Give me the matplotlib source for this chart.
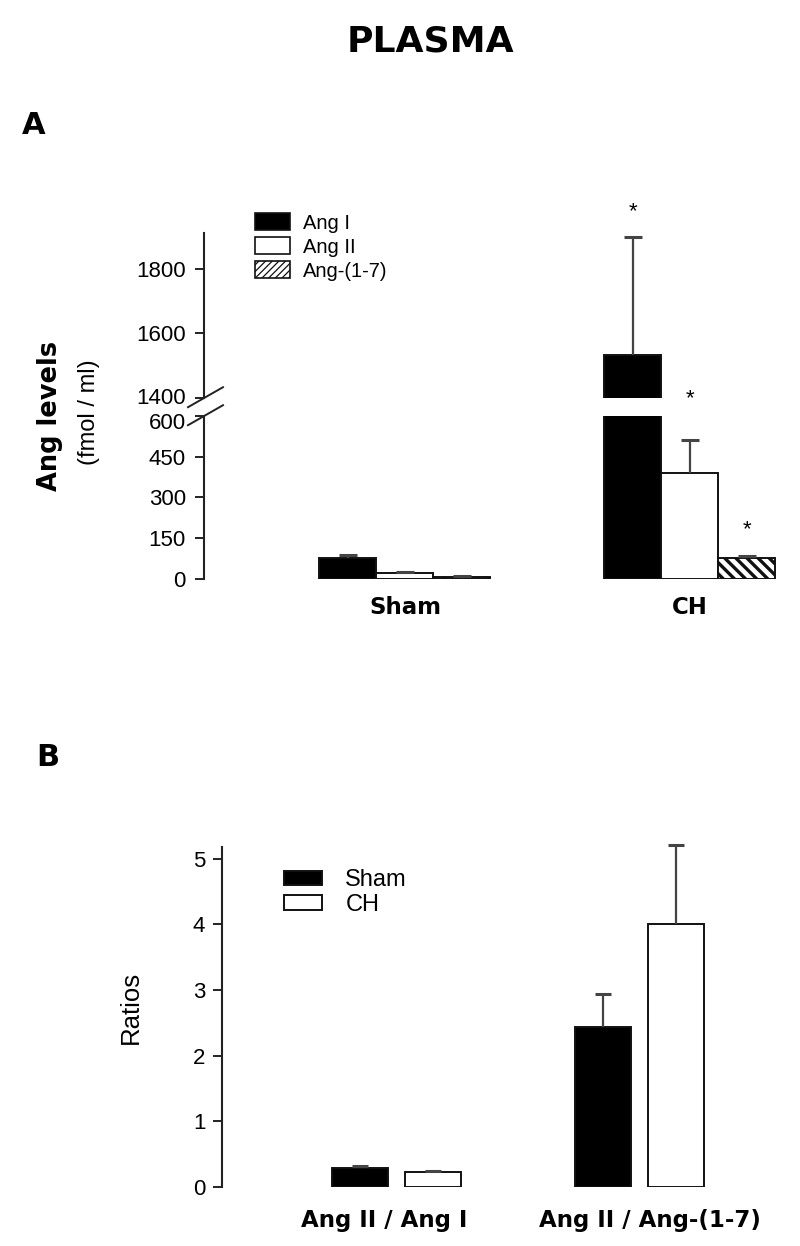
import matplotlib
matplotlib.use('Agg')
import matplotlib.pyplot as plt
import matplotlib.transforms as mtransforms
from matplotlib.patches import Patch
import numpy as np

# ---------------- data ----------------
groups_a = ['Sham', 'CH']
series_a = ['Ang I', 'Ang II', 'Ang-(1-7)']
ang_i = [78, 1534]
ang_i_err = [11, 366]
ang_ii = [22, 389]
ang_ii_err = [4, 122]
ang_17 = [10, 78]
ang_17_err = [2, 7]
significant_a = [[False, True], [False, True], [False, True]]

lower_ticks = [0, 150, 300, 450, 600]
upper_ticks = [1400, 1600, 1800]

groups_b = ['Ang II / Ang I', 'Ang II / Ang-(1-7)']
series_b = ['Sham', 'CH']
ratio_sham = [0.29, 2.44]
ratio_sham_err = [0.03, 0.50]
ratio_ch = [0.23, 4.01]
ratio_ch_err = [0.02, 1.20]
ratio_ticks = [0, 1, 2, 3, 4, 5]

# ---------------- figure ----------------
W, H = 800, 1246
fig = plt.figure(figsize=(W / 100, H / 100), dpi=100)
SANS = ['Liberation Sans', 'DejaVu Sans']
BOLD = ['DejaVu Sans']
EDGE = '#111111'
ERRC = '#444444'


def px_rect(x0, y0, x1, y1):
    return [x0 / W, 1 - y1 / H, (x1 - x0) / W, (y1 - y0) / H]


def style_axis(ax, ticks, fs, pad):
    for s in ['top', 'right', 'bottom']:
        ax.spines[s].set_visible(False)
    ax.spines['left'].set_color('#222222')
    ax.spines['left'].set_linewidth(1.5)
    ax.set_yticks(ticks)
    ax.set_yticklabels([str(t) for t in ticks], fontsize=fs, family=SANS)
    ax.tick_params(axis='y', direction='out', length=6.5, width=1.4,
                   color='#222222', pad=pad)
    ax.tick_params(axis='x', length=0)
    ax.patch.set_alpha(0)


def err_up(ax, xs, ys, es, capw, clip=True):
    xs = np.asarray(xs, float)
    ys = np.asarray(ys, float)
    es = np.asarray(es, float)
    ax.vlines(xs, ys, ys + es, color=ERRC, lw=1.6, zorder=3, clip_on=clip)
    ax.plot(xs, ys + es, ls='none', marker='_', ms=capw, mew=2.2,
            color=ERRC, zorder=3, clip_on=clip)


def nudge_label(ax, text, dy_px):
    for lab in ax.get_yticklabels():
        if lab.get_text() == text:
            lab.set_transform(lab.get_transform() + mtransforms.ScaledTranslation(
                0, dy_px / 100, fig.dpi_scale_trans))


# ---------------- Panel A (broken axis) ----------------
axU = fig.add_axes(px_rect(204, 233, 790, 397.7))
axL = fig.add_axes(px_rect(204, 415.7, 790, 579.3))
axU.set_ylim(1400, 1912)
axL.set_ylim(0, 600)
for ax in (axU, axL):
    ax.set_xlim(-0.705, 1.351)
style_axis(axU, upper_ticks, 16, 6.5)
style_axis(axL, lower_ticks, 16, 6.5)
axU.set_xticks([])

xa = np.arange(len(groups_a))
wa = 0.2
vals_a = [ang_i, ang_ii, ang_17]
errs_a = [ang_i_err, ang_ii_err, ang_17_err]
faces_a = ['black', 'white', 'white']
hatches_a = [None, None, '\\\\\\']
offs_a = [-wa, 0, wa]

plt.rcParams['hatch.linewidth'] = 2.4
for ax in (axU, axL):
    for v, e, fc, h, o in zip(vals_a, errs_a, faces_a, hatches_a, offs_a):
        ax.bar(xa + o, v, width=wa, color=fc, edgecolor=EDGE, linewidth=1.4,
               hatch=h, zorder=2)
        err_up(ax, xa + o, v, e, 13)

# significance stars
star_off_px = [25, 41, 26]
for v, e, sig, o, sp in zip(vals_a, errs_a, significant_a, offs_a, star_off_px):
    for i in range(len(groups_a)):
        if sig[i]:
            top = v[i] + e[i]
            ax = axU if top > 600 else axL
            ax.annotate('*', xy=(xa[i] + o, top), xytext=(0, sp * 0.72),
                        textcoords='offset points', ha='center', va='center',
                        fontsize=16, family=SANS, annotation_clip=False)

axL.set_xticks(xa)
axL.set_xticklabels(groups_a, fontsize=16.5, fontweight='bold', family=BOLD)
axL.tick_params(axis='x', pad=12)

# keep the two labels at the break from colliding
nudge_label(axU, '1400', 2)
nudge_label(axL, '600', -5)


# axis break marks
def break_mark(ax, yfrac):
    tr = fig.dpi_scale_trans + mtransforms.ScaledTranslation(0, yfrac, ax.transAxes)
    ax.plot([-0.16, 0.19], [-0.095, 0.105], color='#222222', lw=1.4,
            transform=tr, clip_on=False)


break_mark(axU, 0)
break_mark(axL, 1)

# legend A
plt.rcParams['hatch.linewidth'] = 0.9
handles_a = [Patch(facecolor='black', edgecolor=EDGE, linewidth=1.2),
             Patch(facecolor='white', edgecolor=EDGE, linewidth=1.2),
             Patch(facecolor='white', edgecolor=EDGE, linewidth=1.2, hatch='/////')]
for hp in handles_a:
    if hasattr(hp, 'set_hatch_linewidth'):
        hp.set_hatch_linewidth(0.9)
fig.legend(handles_a, series_a, loc='upper left',
           bbox_to_anchor=(255 / W, 1 - 213 / H), frameon=False,
           borderpad=0, borderaxespad=0, handlelength=1.75, handleheight=0.95,
           handletextpad=0.62, labelspacing=0.22,
           prop={'family': SANS, 'size': 14.5})

# y labels panel A
fig.text(50 / W, 1 - 416 / H, 'Ang levels', rotation=90, fontsize=18.5,
         fontweight='bold', family=BOLD, ha='center', va='center')
fig.text(89 / W, 1 - 412 / H, '(fmol / ml)', rotation=90, fontsize=17,
         family=SANS, ha='center', va='center')

# ---------------- Panel B ----------------
axB = fig.add_axes(px_rect(222, 847, 790, 1187))
axB.set_ylim(0, 5.18)
axB.set_xlim(-0.715, 1.618)
style_axis(axB, ratio_ticks, 16, 5.5)
axB.set_xticks([])

xb = np.arange(len(groups_b))
wb = 0.23
ob = 0.15
axB.bar(xb - ob, ratio_sham, width=wb, color='black', edgecolor=EDGE,
        linewidth=1.4, zorder=2)
axB.bar(xb + ob, ratio_ch, width=wb, color='white', edgecolor=EDGE,
        linewidth=1.4, zorder=2)
err_up(axB, xb - ob, ratio_sham, ratio_sham_err, 12, clip=False)
err_up(axB, xb + ob, ratio_ch, ratio_ch_err, 12, clip=False)

label_shift_px = [-12, 10]
for i, (g, sh) in enumerate(zip(groups_b, label_shift_px)):
    axB.annotate(g, xy=(xb[i], 0), xycoords=('data', 'axes fraction'),
                 xytext=(sh * 0.72, -22 * 0.72), textcoords='offset points',
                 ha='center', va='top', fontsize=16.5, fontweight='bold',
                 family=BOLD, annotation_clip=False)

handles_b = [Patch(facecolor='black', edgecolor=EDGE, linewidth=1.4),
             Patch(facecolor='white', edgecolor=EDGE, linewidth=1.4)]
fig.legend(handles_b, series_b, loc='upper left',
           bbox_to_anchor=(284 / W, 1 - 869 / H), frameon=False,
           borderpad=0, borderaxespad=0, handlelength=1.6, handleheight=0.55,
           handletextpad=1.0, labelspacing=0.12,
           prop={'family': SANS, 'size': 17})

fig.text(131 / W, 1 - 1007 / H, 'Ratios', rotation=90, fontsize=18.5,
         family=SANS, ha='center', va='center')

# ---------------- titles ----------------
fig.text(430 / W, 1 - 41 / H, 'PLASMA', fontsize=26, fontweight='bold',
         family=BOLD, ha='center', va='center')
fig.text(22 / W, 1 - 126 / H, 'A', fontsize=22, fontweight='bold',
         family=BOLD, ha='left', va='center')
fig.text(36 / W, 1 - 757 / H, 'B', fontsize=22, fontweight='bold',
         family=BOLD, ha='left', va='center')

fig.savefig('out.png', dpi=100, facecolor='white')
